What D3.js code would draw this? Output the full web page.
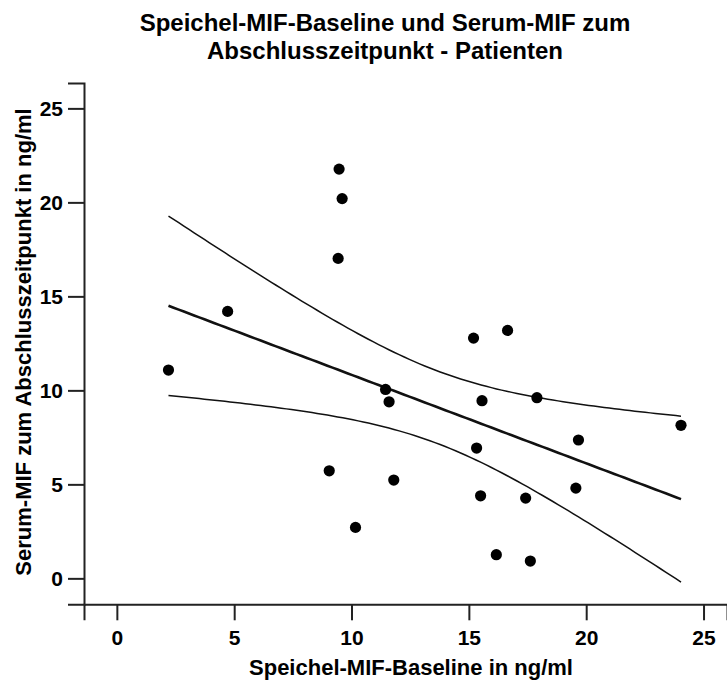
<!DOCTYPE html>
<html>
<head>
<meta charset="utf-8">
<script src="https://cdn.jsdelivr.net/npm/d3@7"></script>
<style>
  html, body { margin: 0; padding: 0; background: #fff; }
  svg { display: block; }
  text { font-family: "Liberation Sans", Arial, sans-serif; font-weight: bold; fill: #000; }
</style>
</head>
<body>
<svg id="chart" width="727" height="680"></svg>
<script>
// Speichel-MIF baseline (x) vs. Serum-MIF at study end (y), ng/ml
const speichelMIF = [9.47, 9.60, 9.43, 4.72, 2.20, 11.45, 11.60, 15.20, 16.65, 15.56, 17.90,
                     24.04, 19.67, 15.33, 15.50, 17.42, 19.56, 16.17, 17.62, 9.05, 11.80, 10.17];
const serumMIF    = [21.77, 20.20, 17.02, 14.20, 11.08, 10.05, 9.39, 12.78, 13.19, 9.45, 9.61,
                     8.14, 7.36, 6.93, 4.39, 4.27, 4.80, 1.26, 0.92, 5.72, 5.23, 2.71];
const xTicks = [0, 5, 10, 15, 20, 25];
const yTicks = [0, 5, 10, 15, 20, 25];
// two-sided 90% t quantile, df = n - 2 = 20
const tQuantile = 1.7247;

const titleLines = ["Speichel-MIF-Baseline und Serum-MIF zum", "Abschlusszeitpunkt - Patienten"];
const xTitle = "Speichel-MIF-Baseline in ng/ml";
const yTitle = "Serum-MIF zum Abschlusszeitpunkt in ng/ml";

const svg = d3.select("#chart");

const x = d3.scaleLinear().domain([-1.4, 26]).range([84, 727]);
const y = d3.scaleLinear().domain([-1.38, 26.35]).range([604.3, 83]);

// Least-squares fit with confidence band for the mean
const n = speichelMIF.length;
const mx = d3.mean(speichelMIF), my = d3.mean(serumMIF);
let sxx = 0, sxy = 0;
for (let i = 0; i < n; i++) {
  sxx += (speichelMIF[i] - mx) ** 2;
  sxy += (speichelMIF[i] - mx) * (serumMIF[i] - my);
}
const slope = sxy / sxx;
const intercept = my - slope * mx;
let sse = 0;
for (let i = 0; i < n; i++) sse += (serumMIF[i] - (intercept + slope * speichelMIF[i])) ** 2;
const se = Math.sqrt(sse / (n - 2));

const [xMin, xMax] = d3.extent(speichelMIF);
const grid = d3.range(0, 101).map(k => xMin + (xMax - xMin) * k / 100);
const fit = grid.map(v => {
  const yh = intercept + slope * v;
  const h = tQuantile * se * Math.sqrt(1 / n + (v - mx) ** 2 / sxx);
  return { v, yh, lo: yh - h, hi: yh + h };
});

const line = key => d3.line().x(d => x(d.v)).y(d => y(d[key]));

svg.append("path").datum(fit).attr("d", line("hi"))
  .attr("fill", "none").attr("stroke", "#111").attr("stroke-width", 1.5);
svg.append("path").datum(fit).attr("d", line("lo"))
  .attr("fill", "none").attr("stroke", "#111").attr("stroke-width", 1.5);
svg.append("path").datum(fit).attr("d", line("yh"))
  .attr("fill", "none").attr("stroke", "#111").attr("stroke-width", 2.6);

// Points
svg.append("g").selectAll("circle")
  .data(d3.range(n))
  .join("circle")
  .attr("cx", i => x(speichelMIF[i]))
  .attr("cy", i => y(serumMIF[i]))
  .attr("r", 5.6)
  .attr("fill", "#000");

// Axes
const xAxis = svg.append("g")
  .attr("transform", `translate(0,${y.range()[0]})`)
  .call(d3.axisBottom(x).tickValues(xTicks).tickSize(16).tickPadding(10).tickFormat(d3.format("d")));
const yAxis = svg.append("g")
  .attr("transform", `translate(${x.range()[0]},0)`)
  .call(d3.axisLeft(y).tickValues(yTicks).tickSize(16).tickPadding(5).tickFormat(d3.format("d")));

[xAxis, yAxis].forEach(g => {
  g.select(".domain").attr("stroke", "#222").attr("stroke-width", 2);
  g.selectAll(".tick line").attr("stroke", "#222").attr("stroke-width", 2);
  g.selectAll(".tick text").style("font-size", "21px")
    .style("font-family", "'Liberation Sans', Arial, sans-serif").style("font-weight", "bold").attr("fill", "#000");
});

// Titles
svg.append("text")
  .attr("text-anchor", "middle")
  .style("font-size", "24px")
  .selectAll("tspan")
  .data(titleLines)
  .join("tspan")
  .attr("x", 385)
  .attr("y", (d, i) => 30.5 + i * 28)
  .text(d => d);

svg.append("text")
  .attr("x", 411).attr("y", 675)
  .attr("text-anchor", "middle")
  .style("font-size", "22px")
  .text(xTitle);

svg.append("text")
  .attr("transform", "translate(30.5,342) rotate(-90)")
  .attr("text-anchor", "middle")
  .style("font-size", "22px")
  .text(yTitle);
</script>
</body>
</html>
